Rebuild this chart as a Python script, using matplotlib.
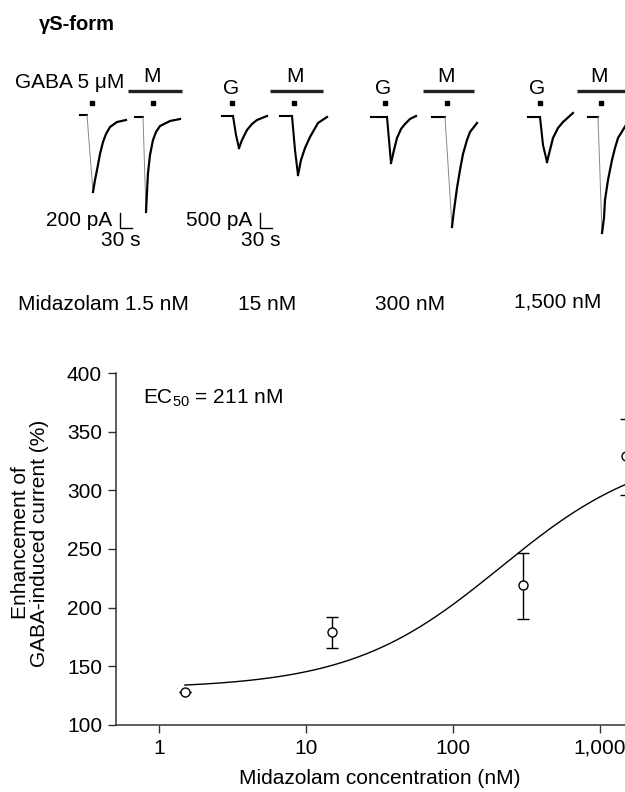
import numpy as np
import matplotlib
matplotlib.use('Agg')
import matplotlib.pyplot as plt

plt.rcParams['font.family'] = ['Liberation Sans', 'DejaVu Sans']
plt.rcParams['mathtext.fontset'] = 'custom'
plt.rcParams['mathtext.rm'] = 'Liberation Sans'
plt.rcParams['mathtext.default'] = 'regular'

# concentration-response data
conc = [1.5, 15, 300, 1500]
enhancement = [128, 179, 219, 329]
err_low = [0, 13, 29, 33]
err_high = [0, 13, 28, 32]

# fitted curve parameters
ec50 = 211
fit_bottom = 131
fit_top = 338
hill_n = 0.85

# current traces (pixel positions, y grows downwards)
traces_x = [
    [80, 87, 93, 95, 97, 100, 103, 106, 110, 117, 126],
    [135, 143, 146, 147, 148, 150, 153, 156, 160, 170, 180],
    [222, 233, 236, 239, 242, 247, 252, 257, 267],
    [280, 292, 295, 298, 301, 305, 310, 318, 327],
    [371, 387, 389, 391, 394, 397, 401, 405, 410, 416],
    [432, 445, 452, 454, 457, 460, 463, 467, 470, 477],
    [528, 540, 543, 547, 550, 553, 558, 563, 573],
    [588, 598, 602, 604, 605, 608, 612, 615, 618, 626],
]
traces_y = [
    [115, 115, 192, 180, 170, 154, 142, 134, 127, 122, 120],
    [117, 117, 212, 192, 173, 155, 140, 132, 126, 121, 119],
    [116, 116, 135, 148, 140, 130, 124, 120, 116],
    [116, 116, 150, 175, 160, 148, 137, 123, 117],
    [117, 117, 140, 163, 150, 138, 129, 124, 119, 116],
    [117, 117, 227, 210, 188, 170, 154, 140, 132, 123],
    [117, 117, 145, 162, 150, 138, 128, 122, 113],
    [117, 117, 233, 218, 200, 180, 160, 148, 138, 125],
]
peak_index = [2, 2, 3, 3, 3, 2, 3, 2]
thin_edge = [True, True, False, False, False, True, False, True]

dots_x = [92, 153, 232, 294, 385, 447, 540, 601]
m_bars = [(128, 182), (270, 323), (423, 474), (577, 630)]
m_labels_x = [152, 295, 446, 599]
g_labels_x = [231, 383, 537]
conc_labels = ['Midazolam 1.5 nM', '15 nM', '300 nM', '1,500 nM']
conc_labels_x = [18, 238, 375, 514]
conc_labels_y = [305, 305, 305, 302]

fs = 15

fig = plt.figure(figsize=(6.25, 7.92), dpi=100)

# top panel drawn in pixel coordinates
top = fig.add_axes([0, 0, 1, 1])
top.set_xlim(0, 625)
top.set_ylim(792, 0)
top.axis('off')

top.text(39, 24, 'γS-form', fontsize=14.5, fontweight='bold', va='center', ha='left')
top.text(15, 83, 'GABA 5 μM', fontsize=fs, va='center', ha='left')

for (x0, x1) in m_bars:
    top.plot([x0, x1], [90.5, 90.5], color='#222222', lw=2.4, solid_capstyle='butt', clip_on=False)
for xm in m_labels_x:
    top.text(xm, 76, 'M', fontsize=fs, ha='center', va='center')
for xg in g_labels_x:
    top.text(xg, 88, 'G', fontsize=fs, ha='center', va='center')
top.plot(dots_x, [102.5] * len(dots_x), 's', color='black', markersize=3.2, linestyle='none')

for tx, ty, pk, thin in zip(traces_x, traces_y, peak_index, thin_edge):
    top.plot(tx[:2], ty[:2], color='black', lw=1.5, clip_on=False)
    if thin:
        top.plot(tx[1:pk + 1], ty[1:pk + 1], color='#888888', lw=0.7, clip_on=False)
    else:
        top.plot(tx[1:pk + 1], ty[1:pk + 1], color='black', lw=1.5, clip_on=False)
    top.plot(tx[pk:], ty[pk:], color='black', lw=1.6, clip_on=False)

# scale bars
for xb, lab in [(120, '200 pA'), (260, '500 pA')]:
    top.plot([xb, xb, xb + 12], [213, 228, 228], color='black', lw=1)
    top.text(xb - 8, 221, lab, fontsize=fs, ha='right', va='center')
    top.text(xb + 1, 241, '30 s', fontsize=fs, ha='center', va='center')

for lab, lx, ly in zip(conc_labels, conc_labels_x, conc_labels_y):
    top.text(lx, ly, lab, fontsize=fs, ha='left', va='center')

# bottom panel: concentration-response
x_left, x_right = 0.51, 2000
px_left = 116
px_right = 159 + 147 * np.log10(x_right)
ax = fig.add_axes([px_left / 625, (792 - 725) / 792, (px_right - px_left) / 625, (725 - 373) / 792])

xs = np.logspace(np.log10(conc[0]), np.log10(x_right), 300)
fit = fit_bottom + (fit_top - fit_bottom) / (1 + (ec50 / xs) ** hill_n)
ax.plot(xs, fit, color='black', lw=1.0)
ax.errorbar(conc, enhancement, yerr=[err_low, err_high], fmt='o', mfc='white', mec='black',
            ecolor='black', markersize=6.5, mew=1.0, elinewidth=1.0, capsize=4.5, capthick=1.0, zorder=3)

ax.set_xscale('log')
ax.set_xlim(x_left, x_right)
ax.set_ylim(100, 400)
ax.set_xticks([1, 10, 100, 1000])
ax.set_xticklabels(['1', '10', '100', '1,000'])
ax.xaxis.set_minor_locator(matplotlib.ticker.NullLocator())
ax.set_yticks([100, 150, 200, 250, 300, 350, 400])
ax.tick_params(labelsize=fs, length=6, width=1, direction='out', pad=4, color='#333333')
for s in ['top', 'right']:
    ax.spines[s].set_visible(False)
for s in ['left', 'bottom']:
    ax.spines[s].set_linewidth(1.1)
    ax.spines[s].set_color('#333333')

ax.text(0.778, 378, 'EC$_{50}$ = 211 nM', fontsize=fs, ha='left', va='center')
ax.set_xlabel('Midazolam concentration (nM)', fontsize=fs, labelpad=8)
ax.set_ylabel('Enhancement of\nGABA-induced current (%)', fontsize=fs, linespacing=0.95, va='center')
ax.yaxis.set_label_coords((30 - px_left) / (px_right - px_left), (725 - 543) / 352)

fig.savefig('out.png', dpi=100)
